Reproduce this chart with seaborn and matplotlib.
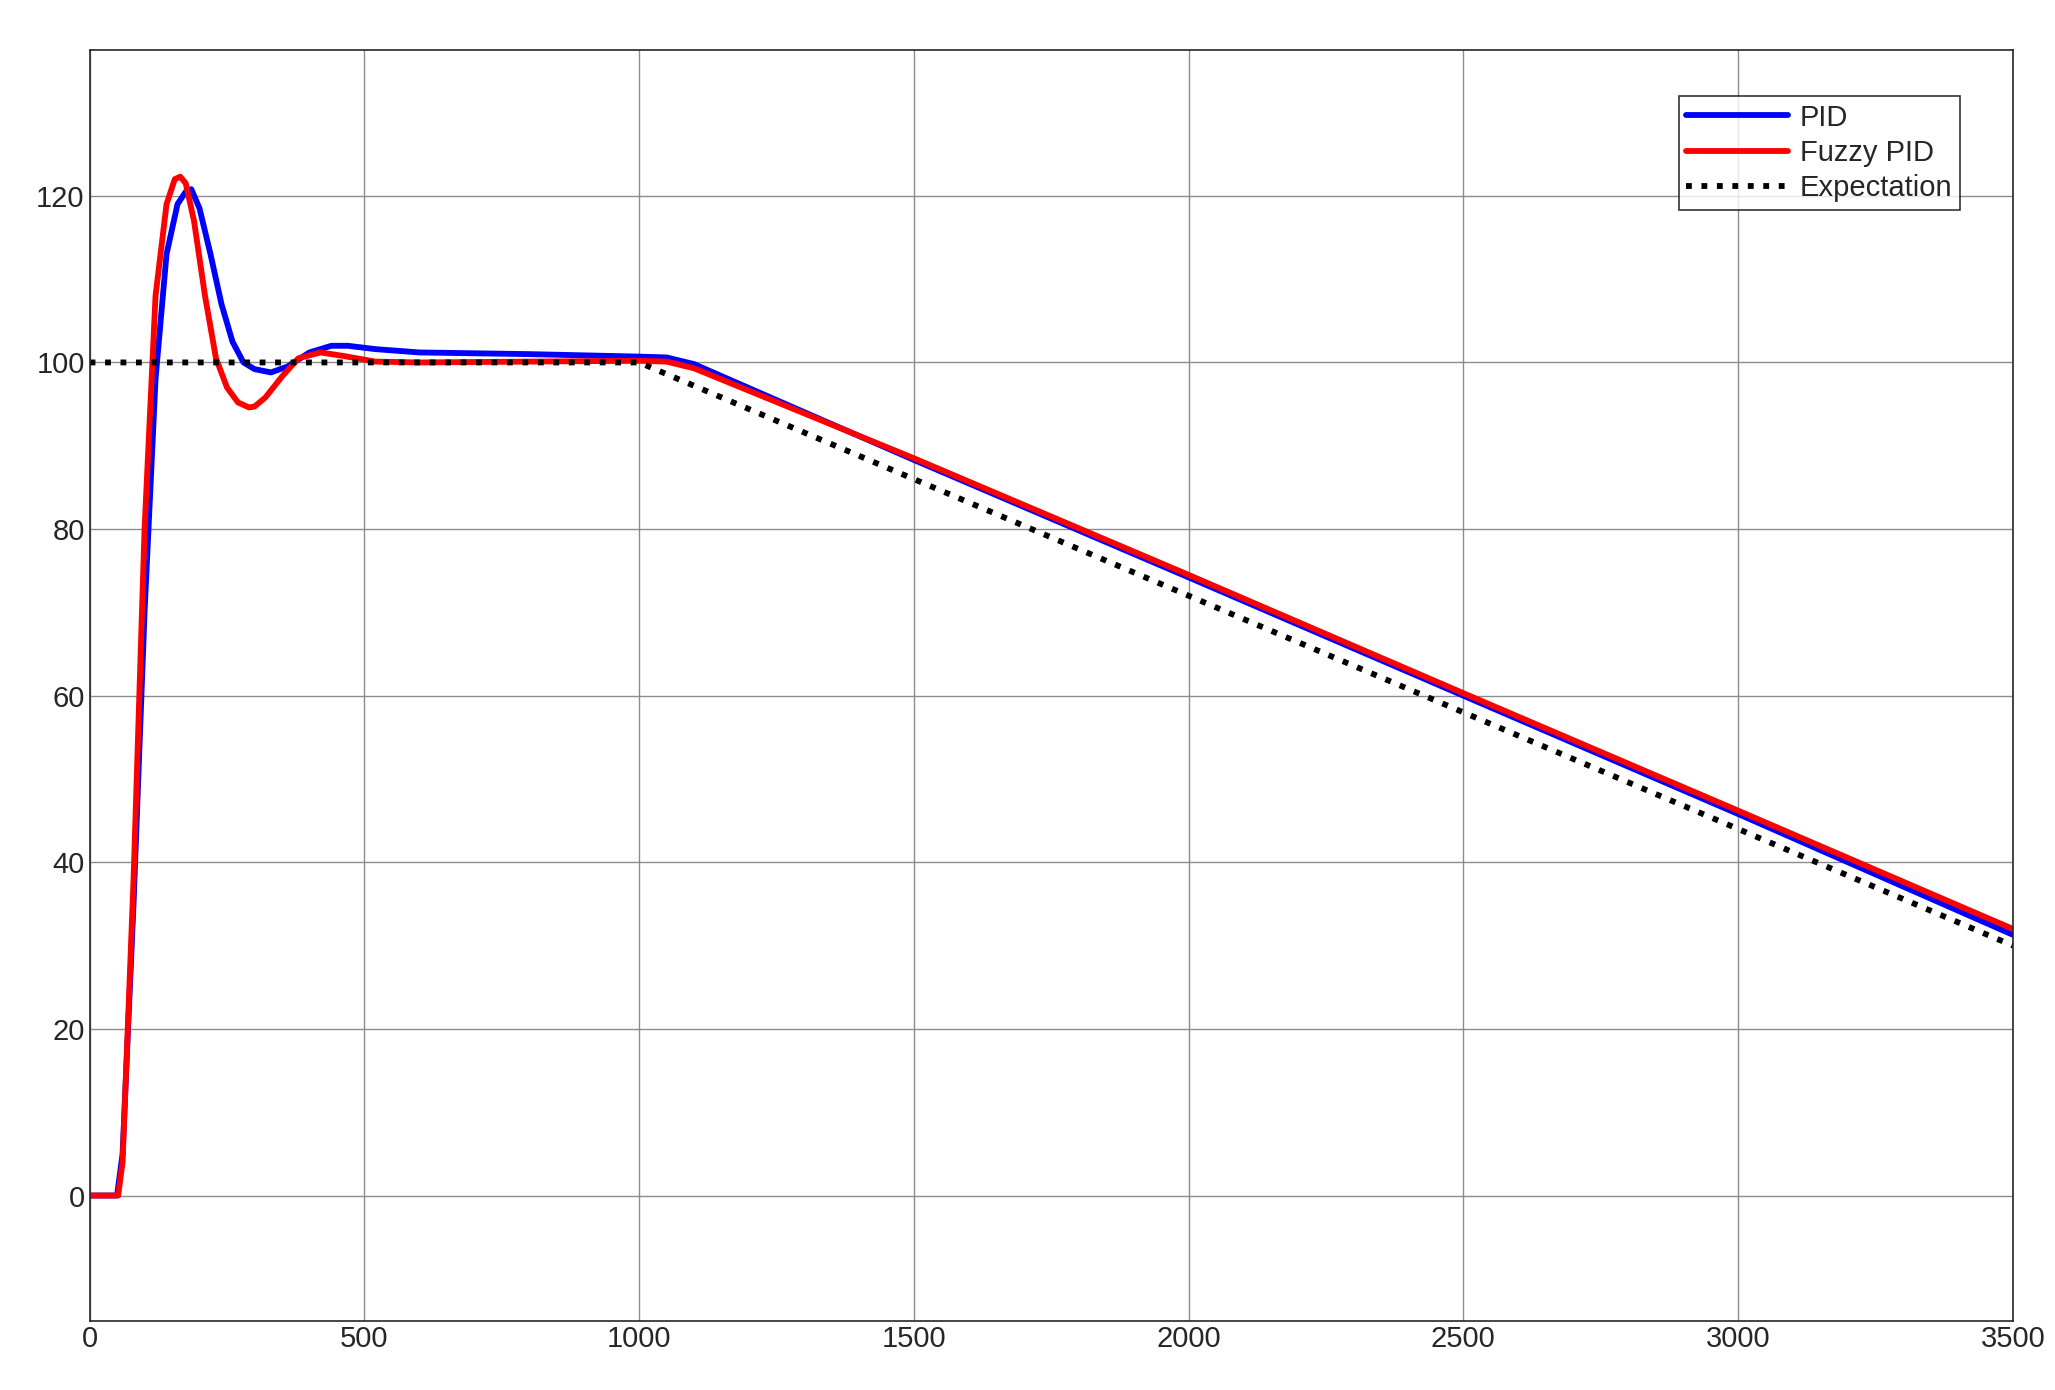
import numpy as np
import pandas as pd
import matplotlib
matplotlib.use("Agg")
import matplotlib.pyplot as plt
import seaborn as sns

# values
t_pid = [0, 50, 60, 80, 100, 120, 140, 160, 175, 185, 200, 220, 240, 260, 280, 300, 330, 360, 400, 440, 470, 520, 600, 800, 1000, 1050, 1100, 1500, 2000, 2500, 3000, 3500]
y_pid = [0, 0, 5, 35, 70, 98, 113, 119, 120.5, 120.8, 118.5, 113, 107, 102.5, 100, 99.2, 98.8, 99.5, 101.2, 102, 102, 101.6, 101.2, 101, 100.7, 100.6, 99.8, 88.3, 74.2, 60, 45.8, 31.3]
t_fuzzy = [0, 52, 60, 80, 100, 120, 140, 155, 165, 175, 190, 210, 230, 250, 270, 290, 300, 320, 350, 380, 420, 460, 520, 600, 800, 1000, 1050, 1100, 1500, 2000, 2500, 3000, 3500]
y_fuzzy = [0, 0, 4, 38, 80, 108, 119, 122, 122.3, 121.5, 117, 108, 100.5, 97, 95.2, 94.6, 94.7, 95.8, 98.3, 100.5, 101.2, 100.8, 100.1, 100, 100.1, 100.2, 100.1, 99.3, 88.5, 74.5, 60.3, 46.2, 32]
t_exp = [0, 1000, 3500]
y_exp = [100, 100, 30]

df = pd.concat([
    pd.DataFrame({"t": t_pid, "y": y_pid, "s": "PID"}),
    pd.DataFrame({"t": t_fuzzy, "y": y_fuzzy, "s": "Fuzzy PID"}),
    pd.DataFrame({"t": t_exp, "y": y_exp, "s": "Expectation"}),
])

sns.set_style("white")
plt.rcParams['font.family'] = ['Arial', 'Liberation Sans', 'DejaVu Sans']
fig = plt.figure(figsize=(20.55, 13.9), dpi=100)
ax = fig.add_axes([0.0436, 0.05, 0.9359, 0.914])

colors = {"PID": "#0000ff", "Fuzzy PID": "#ff0000", "Expectation": "black"}
for name, ls in [("PID", "-"), ("Fuzzy PID", "-"), ("Expectation", ":")]:
    sub = df[df.s == name]
    sns.lineplot(data=sub, x="t", y="y", ax=ax, color=colors[name], linestyle=ls,
                 linewidth=4.2, label=name, sort=False, estimator=None)

ax.set_xlim(0, 3500)
ax.set_ylim(-15, 137.5)
ax.set_xticks(np.arange(0, 3501, 500))
ax.set_yticks(np.arange(0, 121, 20))
ax.grid(True, color="#8c8c8c", linewidth=1.0)
ax.set_xlabel("")
ax.set_ylabel("")
ax.tick_params(labelsize=21, direction="in", length=8, colors="#262626")
for sp in ax.spines.values():
    sp.set_color("#262626")
    sp.set_linewidth(1.2)
leg = ax.legend(loc="upper right", bbox_to_anchor=(0.98, 0.975), fontsize=21,
                frameon=True, fancybox=False, edgecolor="black", handlelength=3.5,
                borderpad=0.25, labelspacing=0.25, handletextpad=0.4)
leg.get_frame().set_linewidth(1.2)
fig.savefig("out.png", dpi=100)
